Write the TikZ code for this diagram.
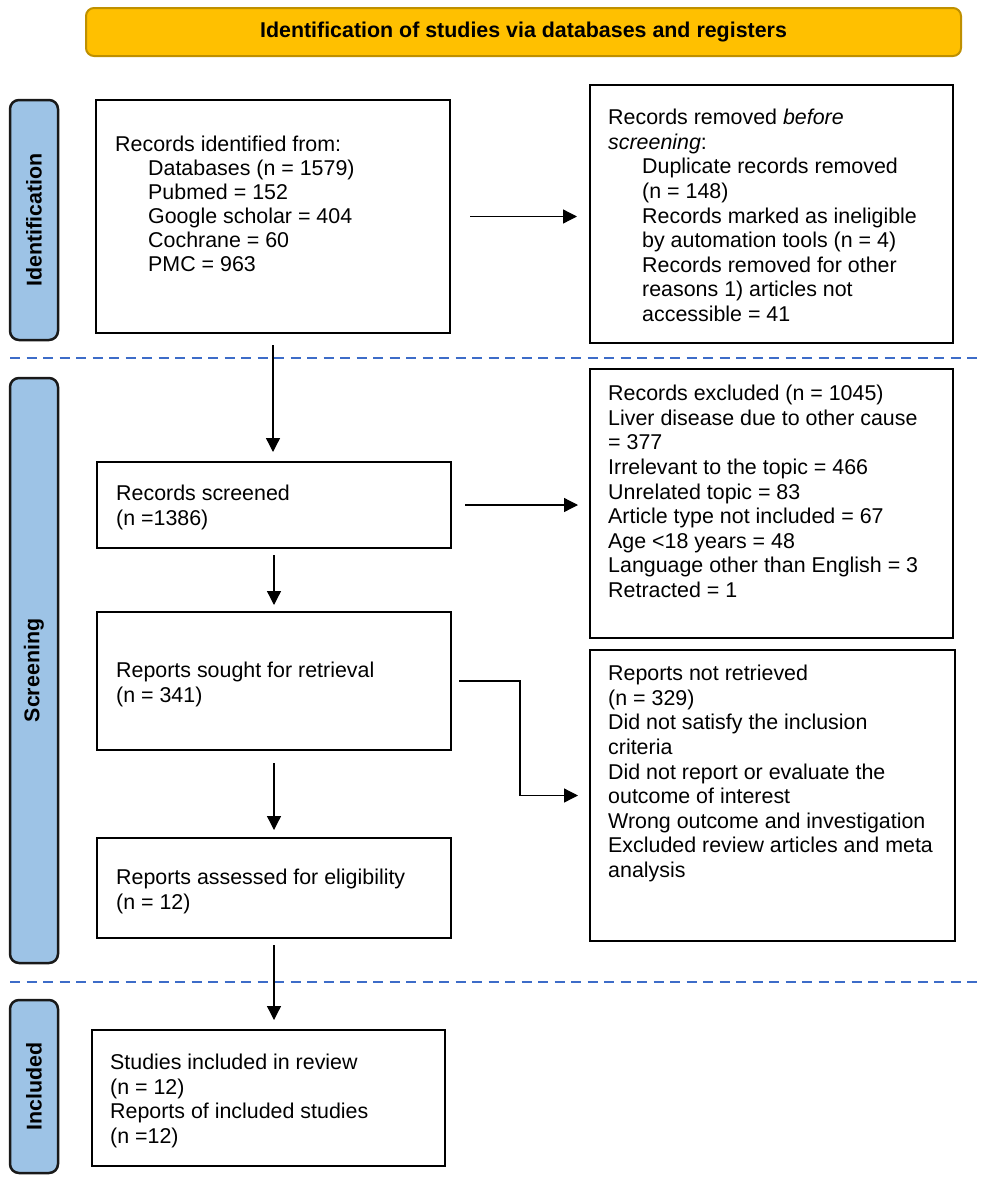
\documentclass[tikz,border=0pt]{standalone}
\usepackage{fontspec}
\setmainfont{Liberation Sans}
\usetikzlibrary{arrows.meta}
\definecolor{gold}{HTML}{FFC000}
\definecolor{goldedge}{HTML}{BF9000}
\definecolor{sideblue}{HTML}{9DC3E6}
\definecolor{dashblue}{HTML}{3D6CC8}
\begin{document}
\begin{tikzpicture}[x=1pt,y=-1pt,
  box/.style={draw, line width=2.2pt, inner sep=0pt, outer sep=0pt, anchor=north west},
  txt/.style={anchor=north west, align=left, inner sep=0pt, font=\fontsize{21.4}{24.6}\selectfont},
  side/.style={draw=black!90, line width=2.5pt, fill=sideblue, rounded corners=9pt, rotate=90,
    inner sep=0pt, minimum height=48pt, font=\bfseries\fontsize{21.4}{25}\selectfont},
  arr/.style={-{Triangle[length=14pt,width=14pt]}, line width=1.3pt},
  sep/.style={dashblue, line width=2.3pt, dash pattern=on 10pt off 6.5pt}
]
\useasboundingbox (0,0) rectangle (986,1186);

% banner
\node[draw=goldedge, line width=2pt, fill=gold, rounded corners=8pt, minimum width=875pt, minimum height=48pt,
  inner sep=0pt, anchor=north west, font=\bfseries\fontsize{21.4}{25}\selectfont] (banner) at (85,7)
  {Identification of studies via databases and registers};

% side bars
\node[side, minimum width=240pt] (sidei) at (34,220) {Identification};
\node[side, minimum width=585pt] (sides) at (34,670.5) {Screening};
\node[side, minimum width=173pt] (sidec) at (34,1086.5) {Included};

% separators
\coordinate (s1a) at (10,358);
\coordinate (s1b) at (978,358);
\coordinate (s2a) at (10,982);
\coordinate (s2b) at (978,982);
\draw[sep] (s1a) -- (s1b);
\draw[sep] (s2a) -- (s2b);

% boxes
\node[box, minimum width=354pt, minimum height=233pt] (b1) at (96,100) {};
\node[box, minimum width=363pt, minimum height=258pt] (b2) at (590,85) {};
\node[box, minimum width=354pt, minimum height=86pt] (b3) at (97,462) {};
\node[box, minimum width=363pt, minimum height=269pt] (b4) at (590,369) {};
\node[box, minimum width=354pt, minimum height=138pt] (b5) at (97,612) {};
\node[box, minimum width=365pt, minimum height=291pt] (b6) at (590,650) {};
\node[box, minimum width=354pt, minimum height=100pt] (b7) at (97,838) {};
\node[box, minimum width=353pt, minimum height=136pt] (b8) at (92,1030) {};

% texts
\node[txt, font=\fontsize{21.4}{24}\selectfont] (t1) at (115,134.2) {\strut Records identified from:\\
\hspace*{33pt}Databases (n = 1579)\\
\hspace*{33pt}Pubmed = 152\\
\hspace*{33pt}Google scholar = 404\\
\hspace*{33pt}Cochrane = 60\\
\hspace*{33pt}PMC = 963};

\node[txt] (t2) at (608,107.2) {\strut Records removed \textit{before}\\
\textit{screening}:\\
\hspace*{34pt}Duplicate records removed\\
\hspace*{34pt}(n = 148)\\
\hspace*{34pt}Records marked as ineligible\\
\hspace*{34pt}by automation tools (n = 4)\\
\hspace*{34pt}Records removed for other\\
\hspace*{34pt}reasons 1) articles not\\
\hspace*{34pt}accessible = 41};

\node[txt] (t3) at (116,483.2) {\strut Records screened\\(n =1386)};

\node[txt] (t4) at (608,383.2) {\strut Records excluded (n = 1045)\\
Liver disease due to other cause\\
= 377\\
Irrelevant to the topic = 466\\
Unrelated topic = 83\\
Article type not included = 67\\
Age <18 years = 48\\
Language other than English = 3\\
Retracted = 1};

\node[txt] (t5) at (116,660.2) {\strut Reports sought for retrieval\\(n = 341)};

\node[txt] (t6) at (608,663.2) {\strut Reports not retrieved\\
(n = 329)\\
Did not satisfy the inclusion\\
criteria\\
Did not report or evaluate the\\
outcome of interest\\
Wrong outcome and investigation\\
Excluded review articles and meta\\
analysis};

\node[txt] (t7) at (116,867.2) {\strut Reports assessed for eligibility\\(n = 12)};

\node[txt] (t8) at (110,1052.2) {\strut Studies included in review\\
(n = 12)\\
Reports of included studies\\
(n =12)};

% connectors
\draw[arr, shorten <=20pt, shorten >=13pt] (b1.east) -- (b1.east -| b2.west);
\draw[arr, shorten <=12pt, shorten >=10pt] (b1.south) -- (b1.south |- b3.north);
\draw[arr, shorten <=14pt, shorten >=12pt] (b3.east) -- (b3.east -| b4.west);
\draw[arr, shorten <=7pt, shorten >=7pt] (b3.south) -- (b3.south |- b5.north);
\coordinate (bend) at (520,681);
\draw[arr, shorten <=8pt, shorten >=12pt] (b5.east) -- (bend) |- (b6.west);
\draw[arr, shorten <=13pt, shorten >=8pt] (b5.south) -- (b5.south |- b7.north);
\draw[arr, shorten <=7pt, shorten >=10pt] (b7.south) -- (b7.south |- b8.north);
\end{tikzpicture}
\end{document}
